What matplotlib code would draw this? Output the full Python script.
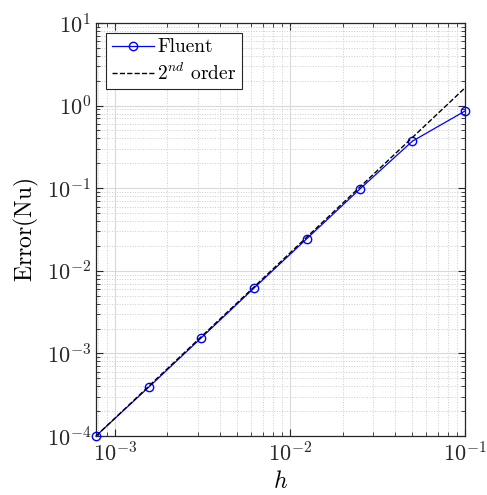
import numpy as np
import matplotlib
matplotlib.use('Agg')
import matplotlib.pyplot as plt

plt.rcParams['font.family'] = 'serif'
plt.rcParams['font.serif'] = ['cmr10']
plt.rcParams['mathtext.fontset'] = 'cm'
plt.rcParams['axes.formatter.use_mathtext'] = True

# grid spacing and Fluent error in Nu
h = [0.1, 0.05, 0.025, 0.0125, 0.00625, 0.003125, 0.0015625, 0.00078125]
err = [0.86, 0.37, 0.097, 0.0245, 0.0062, 0.00155, 0.00039, 0.0001]

# 2nd order reference anchored at finest grid
h_ref = np.array([0.00078125, 0.1])
err_ref = 0.0001 * (h_ref / 0.00078125) ** 2

fig = plt.figure(figsize=(4.87, 4.95), dpi=100)
ax = fig.add_axes([96/487, 1 - 436/495, 369/487, 413/495])

ax.loglog(h, err, '-o', color='blue', lw=0.9, ms=6, mfc='none', mew=1.0,
          label='Fluent', clip_on=False, zorder=3)
ax.loglog(h_ref, err_ref, '--', color='black', lw=1.0, label=r'$2^{nd}$ order', zorder=4)

ax.set_xlim(0.00078125, 0.1)
ax.set_ylim(1e-4, 1e1)

ax.grid(True, which='major', color='#d9d9d9', lw=0.8, ls='-')
ax.grid(True, which='minor', color='#cccccc', lw=0.7, ls=':')
ax.tick_params(which='both', direction='in', top=True, right=True, labelsize=16, colors='#262626')
ax.tick_params(which='major', length=5, width=0.8)
ax.tick_params(which='minor', length=3, width=0.6)
for s in ax.spines.values():
    s.set_color('#262626')
    s.set_linewidth(0.9)

ax.set_xlabel(r'$h$', fontsize=17)
ax.set_ylabel(r'$\mathrm{Error(Nu)}$', fontsize=17)

leg = ax.legend(loc='upper left', fontsize=14, fancybox=False, framealpha=1,
                edgecolor='#262626', handlelength=2.2, borderpad=0.3, labelspacing=0.3,
                handletextpad=0.15, borderaxespad=0.5)
leg.get_frame().set_linewidth(0.8)

fig.savefig('out.png', dpi=100)
